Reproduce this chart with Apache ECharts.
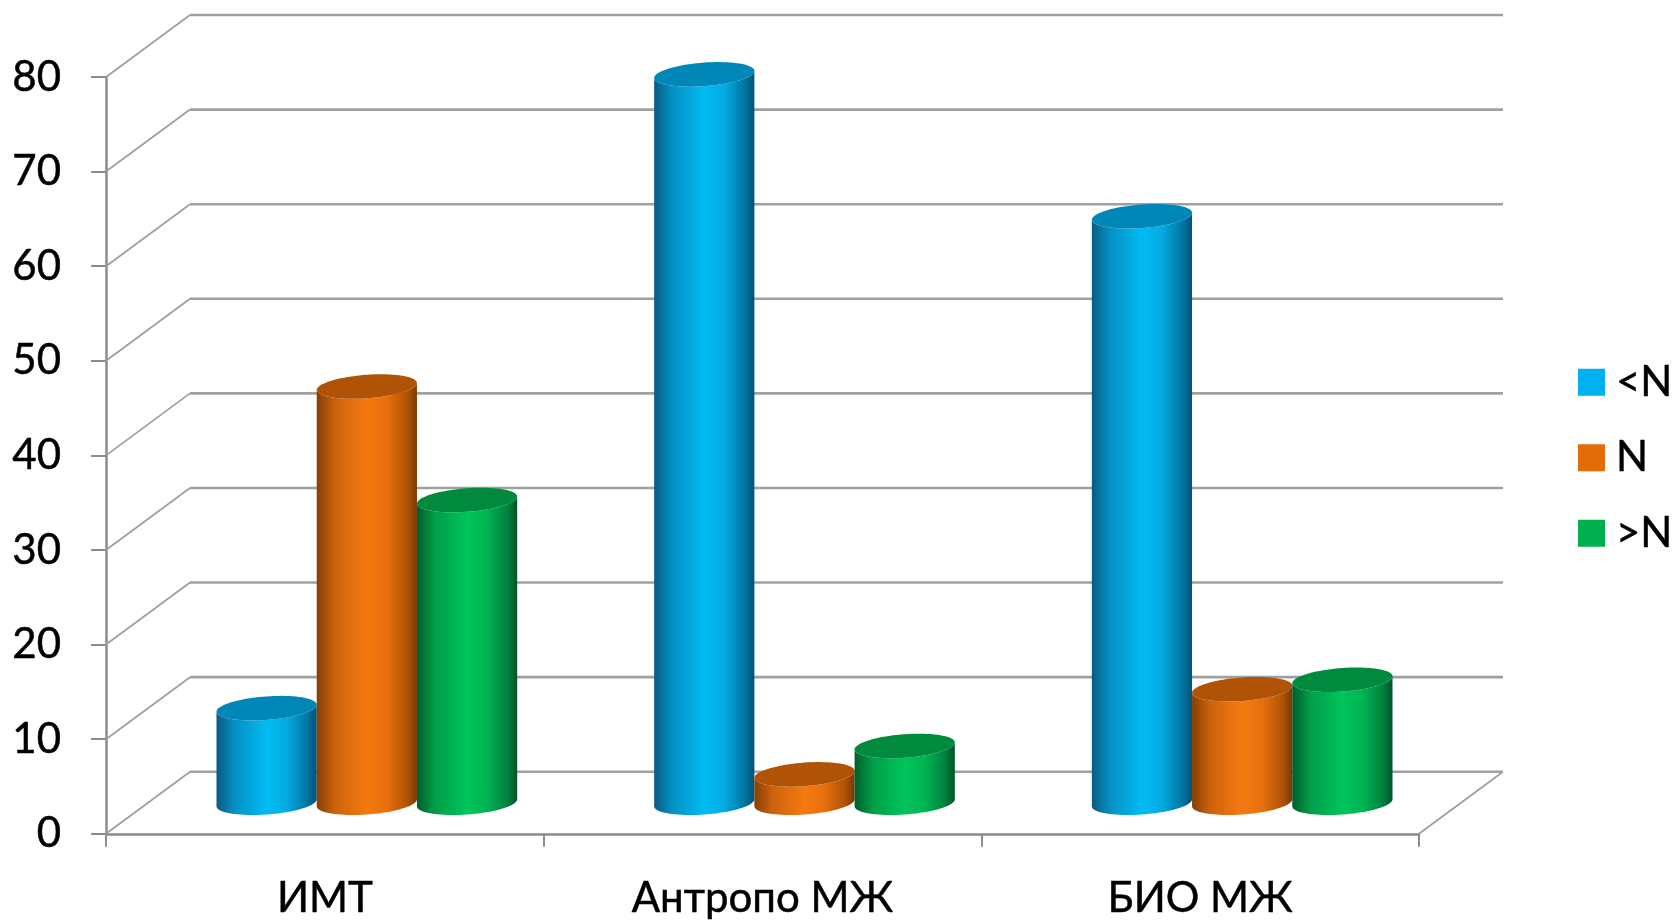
<!DOCTYPE html>
<html>
<head>
<meta charset="utf-8">
<title>Cylinder column chart</title>
<script src="https://cdn.jsdelivr.net/npm/echarts@6/dist/echarts.min.js"></script>
<style>
  html, body { margin: 0; padding: 0; background: #ffffff; }
  #chart { width: 1672px; height: 920px; }
</style>
</head>
<body>
<div id="chart"></div>
<script>
// ---- data ----
const categories = ['ИМТ', 'Антропо МЖ', 'БИО МЖ'];
const seriesNames = ['<N', 'N', '>N'];
const belowNorm = [10, 77, 62];
const inNorm = [44, 3, 12];
const aboveNorm = [32, 6, 13];
const yTicks = [0, 10, 20, 30, 40, 50, 60, 70, 80];

// ---- look ----
const FONT = 'Lato, "Open Sans", sans-serif';
const GRID_COLOR = '#a0a0a0';
const DEPTH = { dx: 84, dy: -62 };      // oblique depth of the floor / back wall
const BAR_FRAC = 0.229;                 // cylinder diameter as a share of a category band
const ELLIPSE_RATIO = 0.235;            // vertical / horizontal semi-axis of the caps
const SHEAR = 0.07;                     // perspective tilt of the caps

const palettes = [
  { legend: '#00b0f0', cap: '#0087b8',
    body: ['#0a5a82', '#0590c4', '#02bbf3', '#03abe1', '#0276a4', '#045275'] },
  { legend: '#e36c09', cap: '#b05306',
    body: ['#843f06', '#cd620c', '#f47a10', '#e86f0d', '#b05407', '#7a3904'] },
  { legend: '#00b050', cap: '#008a3d',
    body: ['#005e2b', '#009e49', '#00c45c', '#00b452', '#008240', '#005527'] }
];

const textStyleBase = {
  fontFamily: FONT, fontSize: 42, color: '#000',
  textBorderColor: '#000', textBorderWidth: 0.5
};

function bodyGradient(stops) {
  const pos = [0, 0.18, 0.5, 0.7, 0.9, 1];
  return new echarts.graphic.LinearGradient(0, 0, 1, 0,
    stops.map((c, i) => ({ offset: pos[i], color: c })));
}

function ellipsePoints(cx, cy, a, b, from, to, n) {
  const pts = [];
  for (let i = 0; i <= n; i++) {
    const t = from + (to - from) * i / n;
    const c = Math.cos(t), s = Math.sin(t);
    pts.push([cx + a * c, cy + b * s - SHEAR * a * c]);
  }
  return pts;
}

function cylinderRenderer(idx) {
  const pal = palettes[idx];
  return function (params, api) {
    const cat = api.value(0);
    const val = api.value(1);
    const band = api.size([1, 0])[0];
    const w = band * BAR_FRAC;
    const base = api.coord([cat, 0]);
    const top = api.coord([cat, val]);
    const cx = base[0] + (idx - 1) * w + DEPTH.dx / 2;
    const yb = base[1] + DEPTH.dy / 2;
    const yt = top[1] + DEPTH.dy / 2;
    const a = w / 2, b = a * ELLIPSE_RATIO;
    const topFront = ellipsePoints(cx, yt, a, b, Math.PI, 0, 40);
    const botFront = ellipsePoints(cx, yb, a, b, 0, Math.PI, 40);
    const cap = ellipsePoints(cx, yt, a, b, 0, Math.PI * 2, 80);
    return {
      type: 'group',
      children: [
        { type: 'polygon', shape: { points: topFront.concat(botFront) },
          style: { fill: bodyGradient(pal.body) } },
        { type: 'polygon', shape: { points: cap },
          style: { fill: pal.cap } }
      ]
    };
  };
}

// back wall and floor outline, one polyline per value tick
function wallRenderer(params, api) {
  const v = api.value(0);
  const p = api.coord([0, v]);
  const x0 = params.coordSys.x;
  const x1 = params.coordSys.x + params.coordSys.width;
  const y = p[1];
  const children = [
    { type: 'line', shape: { x1: x0, y1: y, x2: x0 + DEPTH.dx, y2: y + DEPTH.dy },
      style: { stroke: GRID_COLOR, lineWidth: 1.8 } },
    { type: 'line', shape: { x1: x0 + DEPTH.dx, y1: y + DEPTH.dy, x2: x1 + DEPTH.dx, y2: y + DEPTH.dy },
      style: { stroke: GRID_COLOR, lineWidth: 2.6 } }
  ];
  if (v === 0) {
    children.push({ type: 'line',
      shape: { x1: x1, y1: y, x2: x1 + DEPTH.dx, y2: y + DEPTH.dy },
      style: { stroke: GRID_COLOR, lineWidth: 1.8 } });
  }
  return { type: 'group', children: children };
}

const valueSets = [belowNorm, inNorm, aboveNorm];

const series = [{
  type: 'custom',
  name: 'wall',
  silent: true,
  z: 1,
  renderItem: wallRenderer,
  encode: { y: 0 },
  data: yTicks.map(v => [v])
}];

valueSets.forEach((vals, i) => {
  series.push({
    type: 'custom',
    name: seriesNames[i],
    z: 2 + i,
    renderItem: cylinderRenderer(i),
    itemStyle: { color: palettes[i].legend },
    encode: { x: 0, y: 1 },
    data: vals.map((v, c) => [c, v])
  });
});

const chart = echarts.init(document.getElementById('chart'), null, { renderer: 'canvas' });
chart.setOption({
  animation: false,
  backgroundColor: '#ffffff',
  grid: { left: 106, top: 77, width: 1313, height: 758 },
  legend: {
    orient: 'vertical',
    left: 1573,
    top: 356,
    icon: 'rect',
    itemWidth: 27,
    itemHeight: 27,
    itemGap: 33,
    data: seriesNames,
    textStyle: Object.assign({}, textStyleBase, { lineHeight: 42, padding: [0, 0, 0, 6] })
  },
  xAxis: {
    type: 'category',
    data: categories,
    axisLine: { show: true, lineStyle: { color: '#8c8c8c', width: 2.5 } },
    axisTick: { show: true, length: 13, lineStyle: { color: '#8c8c8c', width: 2 } },
    axisLabel: Object.assign({}, textStyleBase, { margin: 44 }),
    splitLine: { show: false }
  },
  yAxis: {
    type: 'value',
    min: 0,
    max: 80,
    interval: 10,
    axisLine: { show: true, lineStyle: { color: '#8c8c8c', width: 2.5 } },
    axisTick: { show: true, length: 15, lineStyle: { color: '#8c8c8c', width: 2 } },
    axisLabel: Object.assign({}, textStyleBase, { margin: 45 }),
    splitLine: { show: false }
  },
  series: series
});
</script>
</body>
</html>
